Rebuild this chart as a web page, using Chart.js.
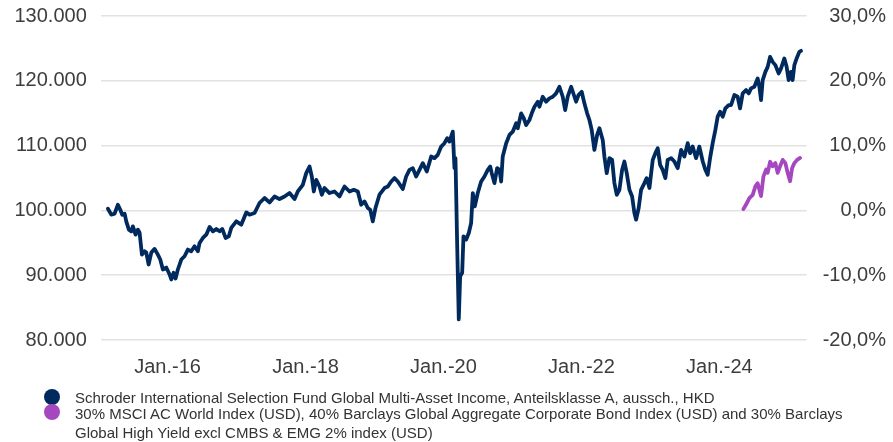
<!DOCTYPE html>
<html>
<head>
<meta charset="utf-8">
<script src="https://cdn.jsdelivr.net/npm/chart.js@4"></script>
<style>
  html, body { margin: 0; padding: 0; background: #ffffff; }
  #wrap { position: relative; width: 893px; height: 442px; overflow: hidden; }
  #c { position: absolute; left: 0; top: 0; }
  .dot { position: absolute; width: 16px; height: 16px; border-radius: 50%; }
  .txt { position: absolute; left: 75px; font-family: "Liberation Sans", Arial, sans-serif; font-size: 15px; line-height: 19px; color: #333333; white-space: nowrap; }
</style>
</head>
<body>
<div id="wrap">
  <canvas id="c" width="893" height="442"></canvas>
  <div class="dot" style="left:44px; top:389px; background:#002a5e;"></div>
  <div class="txt" style="top:387.5px;">Schroder International Selection Fund Global Multi-Asset Income, Anteilsklasse A, aussch., HKD</div>
  <div class="dot" style="left:44px; top:404px; background:#a548c0;"></div>
  <div class="txt" style="top:403.5px;">30% MSCI AC World Index (USD), 40% Barclays Global Aggregate Corporate Bond Index (USD) and 30% Barclays<br>Global High Yield excl CMBS &amp; EMG 2% index (USD)</div>
</div>
<script>
// ---- Data ----
const fundName = "Schroder International Selection Fund Global Multi-Asset Income, Anteilsklasse A, aussch., HKD";
const benchName = "30% MSCI AC World Index (USD), 40% Barclays Global Aggregate Corporate Bond Index (USD) and 30% Barclays Global High Yield excl CMBS & EMG 2% index (USD)";

// decimal-year dates of the fund series
const fundDates = [
  2015.135,2015.184,2015.232,2015.280,2015.314,2015.343,2015.377,2015.401,2015.439,2015.474,
  2015.497,2015.536,2015.570,2015.594,2015.628,2015.667,2015.691,2015.725,2015.764,2015.812,
  2015.859,2015.894,2015.932,2015.981,2016.029,2016.054,2016.087,2016.116,2016.149,2016.199,
  2016.246,2016.294,2016.343,2016.391,2016.439,2016.464,2016.512,2016.561,2016.609,2016.657,
  2016.706,2016.754,2016.793,2016.841,2016.888,2016.923,2016.996,2017.068,2017.141,2017.188,
  2017.261,2017.333,2017.406,2017.478,2017.551,2017.623,2017.696,2017.768,2017.841,2017.888,
  2017.961,2018.010,2018.058,2018.091,2018.120,2018.155,2018.203,2018.236,2018.275,2018.348,
  2018.420,2018.493,2018.565,2018.638,2018.700,2018.758,2018.807,2018.855,2018.903,2018.938,
  2018.975,2019.014,2019.072,2019.145,2019.193,2019.242,2019.290,2019.338,2019.410,2019.459,
  2019.507,2019.555,2019.604,2019.652,2019.700,2019.758,2019.822,2019.870,2019.917,2019.967,
  2020.014,2020.054,2020.087,2020.135,2020.159,2020.174,2020.199,2020.222,2020.242,2020.271,
  2020.290,2020.329,2020.367,2020.401,2020.425,2020.454,2020.497,2020.546,2020.594,2020.642,
  2020.677,2020.700,2020.739,2020.778,2020.812,2020.836,2020.859,2020.909,2020.957,2021.004,
  2021.054,2021.077,2021.126,2021.164,2021.199,2021.246,2021.280,2021.319,2021.367,2021.391,
  2021.439,2021.488,2021.536,2021.584,2021.633,2021.681,2021.729,2021.764,2021.801,2021.851,
  2021.899,2021.923,2021.957,2022.004,2022.043,2022.083,2022.116,2022.149,2022.188,2022.228,
  2022.261,2022.309,2022.333,2022.367,2022.406,2022.445,2022.478,2022.512,2022.551,2022.590,
  2022.623,2022.657,2022.696,2022.735,2022.768,2022.793,2022.830,2022.865,2022.913,2022.946,
  2022.986,2023.034,2023.072,2023.106,2023.141,2023.178,2023.217,2023.251,2023.300,2023.348,
  2023.396,2023.445,2023.493,2023.541,2023.575,2023.613,2023.662,2023.710,2023.759,2023.797,
  2023.830,2023.865,2023.903,2023.942,2023.975,2024.010,2024.048,2024.087,2024.135,2024.170,
  2024.217,2024.265,2024.300,2024.338,2024.387,2024.425,2024.459,2024.507,2024.555,2024.580,
  2024.604,2024.628,2024.667,2024.700,2024.735,2024.772,2024.812,2024.859,2024.894,2024.942,
  2024.975,2025.004,2025.039,2025.062,2025.087,2025.120,2025.159,2025.184
];
// fund value (HKD, indexed to 100.000 at start)
const fundValues = [
  100260,99340,99490,100880,100110,99340,99490,98310,97030,96770,
  97540,96260,97030,96570,93180,93690,93490,91650,93490,94060,
  93180,92420,90880,91180,90110,89340,90370,89490,90880,92420,
  92920,93950,93690,94460,93690,94980,95750,96260,97450,96770,
  97140,96770,97140,95750,96000,97290,98310,97800,99690,99340,
  99600,101140,101910,101230,102150,101750,102150,102680,101750,102920,
  103950,105750,106770,105230,102920,104720,103690,102420,103450,102680,
  102920,102150,103690,102920,103180,102920,100880,101380,100370,100110,
  98310,100370,102420,103450,103690,104460,104980,104460,103290,105230,
  106260,106520,105230,106260,107290,106000,108310,108060,108570,109850,
  110370,111140,110620,112150,106520,108060,94460,83180,89850,90370,
  96000,95490,96520,98060,102680,100620,102680,104460,105230,106260,
  106770,105750,104220,106520,106260,104460,108310,110370,111650,112150,
  113450,112680,114980,114220,113180,113950,114980,116000,116770,116000,
  117540,116770,117290,117540,118060,119080,117540,115490,117540,119080,
  117540,116770,117800,118310,116520,114980,113950,112420,109340,111650,
  112680,110880,108310,105750,108060,107800,104220,102420,103180,106260,
  107540,105750,103180,102150,99600,98570,100370,103180,104220,104980,
  103450,107800,108830,109600,107030,106260,104980,107800,108060,107540,
  106520,109340,108310,110370,108830,109850,108060,109850,107540,106260,
  105490,108060,110370,112420,114460,115230,114460,115750,116260,116260,
  117800,117540,115750,118060,118570,118060,118830,119080,120370,119080,
  117030,120110,121380,122150,123690,122920,122420,121140,121910,123450,
  122150,120110,121380,120110,122420,123450,124460,124620
];
// benchmark performance in percent (right axis)
const benchDates = [
  2024.348,2024.387,2024.435,2024.483,2024.522,2024.555,2024.604,2024.638,2024.677,2024.700,
  2024.735,2024.772,2024.812,2024.845,2024.880,2024.918,2024.957,2024.990,2025.025,2025.054,
  2025.087,2025.126,2025.170
];
const benchValues = [
  0.2,0.9,1.9,2.4,3.7,4.2,2.2,5.2,6.3,5.8,
  7.5,6.8,7.3,5.8,6.8,7.8,7.3,5.8,4.5,6.5,
  7.3,7.8,8.1
];
// axis ticks
const xTickYears = [2016, 2018, 2020, 2022, 2024];
const leftTicks = [80000, 90000, 100000, 110000, 120000, 130000];
const rightTicks = [-20, -10, 0, 10, 20, 30];

// ---- Chart ----
const FONT = "'Liberation Sans', Arial, sans-serif";
const TICK_COLOR = '#3d3d3d';
const fmtThousands = v => String(Math.round(v)).replace(/\B(?=(\d{3})+(?!\d))/g, '.');
const fmtPct = v => v.toFixed(1).replace('.', ',') + '%';
const noEdgePadding = axis => { axis.paddingTop = 0; axis.paddingBottom = 0; };

new Chart(document.getElementById('c'), {
  type: 'line',
  data: {
    datasets: [
      {
        label: fundName,
        data: fundDates.map((d, i) => ({ x: d, y: fundValues[i] })),
        yAxisID: 'y',
        borderColor: '#002a5e',
        backgroundColor: '#002a5e',
        borderWidth: 3.8,
        pointRadius: 0,
        tension: 0,
        borderJoinStyle: 'round',
        borderCapStyle: 'round'
      },
      {
        label: benchName,
        data: benchDates.map((d, i) => ({ x: d, y: benchValues[i] })),
        yAxisID: 'y2',
        borderColor: '#a548c0',
        backgroundColor: '#a548c0',
        borderWidth: 3.8,
        pointRadius: 0,
        tension: 0,
        borderJoinStyle: 'round',
        borderCapStyle: 'round'
      }
    ]
  },
  options: {
    responsive: false,
    animation: false,
    devicePixelRatio: 1,
    layout: { padding: { left: 0, right: 7, top: 16, bottom: 56 } },
    plugins: { legend: { display: false }, tooltip: { enabled: false } },
    scales: {
      x: {
        type: 'linear',
        min: 2015.039,
        max: 2025.265,
        grid: { display: false },
        border: { display: false },
        afterBuildTicks: axis => { axis.ticks = xTickYears.map(v => ({ value: v })); },
        ticks: {
          padding: 7,
          color: TICK_COLOR,
          font: { family: FONT, size: 20 },
          maxRotation: 0,
          callback: v => 'Jan.-' + String(v).slice(2)
        }
      },
      y: {
        position: 'left',
        min: 80000,
        max: 130000,
        afterBuildTicks: axis => { axis.ticks = leftTicks.map(v => ({ value: v })); },
        afterFit: noEdgePadding,
        grid: { color: '#e2e2e2', lineWidth: 1.5, drawTicks: false },
        border: { display: false },
        ticks: {
          padding: 14.5,
          color: TICK_COLOR,
          font: { family: FONT, size: 20 },
          callback: v => fmtThousands(v)
        }
      },
      y2: {
        position: 'right',
        min: -20,
        max: 30,
        afterBuildTicks: axis => { axis.ticks = rightTicks.map(v => ({ value: v })); },
        afterFit: noEdgePadding,
        grid: { display: false, drawTicks: false },
        border: { display: false },
        ticks: {
          padding: 8,
          color: TICK_COLOR,
          crossAlign: 'far',
          font: { family: FONT, size: 20 },
          callback: v => fmtPct(v)
        }
      }
    }
  }
});
</script>
</body>
</html>
